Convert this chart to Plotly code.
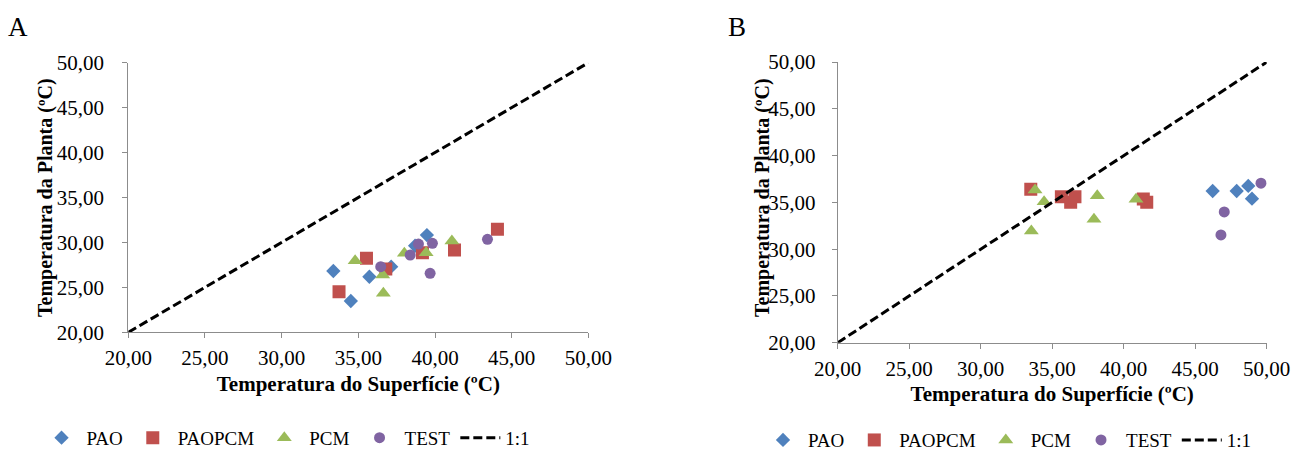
import plotly.graph_objects as go

# Panel A: surface vs. plant temperature
a_pao_x = [33.37, 34.51, 35.72, 37.14, 39.47, 38.70]
a_pao_y = [26.82, 23.48, 26.18, 27.30, 30.82, 29.63]
a_paopcm_x = [33.74, 35.53, 36.79, 39.18, 41.27, 44.07]
a_paopcm_y = [24.52, 28.23, 27.04, 28.85, 29.15, 31.46]
a_pcm_x = [34.79, 36.59, 36.63, 38.00, 39.42, 41.10]
a_pcm_y = [27.96, 26.37, 24.34, 28.79, 28.85, 30.16]
a_test_x = [36.46, 38.38, 38.92, 39.83, 39.68, 43.42]
a_test_y = [27.30, 28.60, 29.82, 29.90, 26.56, 30.34]

# Panel B
b_pao_x = [46.22, 47.90, 48.71, 48.97]
b_pao_y = [36.22, 36.22, 36.76, 35.40]
b_paopcm_x = [33.50, 35.64, 36.29, 36.59, 41.37, 41.61]
b_paopcm_y = [36.41, 35.61, 35.02, 35.61, 35.37, 35.02]
b_pcm_x = [33.80, 34.43, 38.15, 37.92, 40.86, 33.54]
b_pcm_y = [36.33, 35.08, 35.72, 33.20, 35.34, 31.95]
b_test_x = [49.60, 47.03, 46.80]
b_test_y = [37.05, 33.98, 31.52]

ref_line = [20, 50]
tick_vals = [20, 25, 30, 35, 40, 45, 50]

X_TITLE = "Temperatura do Superfície (ºC)"
Y_TITLE = "Temperatura da Planta (ºC)"

FONT = "Liberation Serif, Times New Roman, serif"
COLORS = {"PAO": "#4F81BD", "PAOPCM": "#C0504D", "PCM": "#9BBB59", "TEST": "#8064A2"}
SYMBOLS = {"PAO": ("diamond", 11), "PAOPCM": ("square", 13), "PCM": ("triangle-up", 13), "TEST": ("circle", 11)}

W, H = 1296, 450

fig = go.Figure()

panels = [
    ("x", "y", "legend", [("PAO", a_pao_x, a_pao_y), ("PAOPCM", a_paopcm_x, a_paopcm_y),
                          ("PCM", a_pcm_x, a_pcm_y), ("TEST", a_test_x, a_test_y)]),
    ("x2", "y2", "legend2", [("PAO", b_pao_x, b_pao_y), ("PAOPCM", b_paopcm_x, b_paopcm_y),
                             ("PCM", b_pcm_x, b_pcm_y), ("TEST", b_test_x, b_test_y)]),
]

for xa, ya, leg, series in panels:
    for name, xs, ys in series:
        sym, size = SYMBOLS[name]
        fig.add_trace(go.Scatter(
            x=xs, y=ys, mode="markers", name=name, xaxis=xa, yaxis=ya, legend=leg,
            marker=dict(symbol=sym, size=size, color=COLORS[name], line=dict(width=0)),
        ))
    fig.add_trace(go.Scatter(
        x=ref_line, y=ref_line, mode="lines", name="1:1", xaxis=xa, yaxis=ya, legend=leg,
        line=dict(color="black", width=3, dash="9px,4px"),
    ))

axis_common = dict(
    range=[20, 50], tickvals=tick_vals, tickformat=".2f",
    showgrid=False, zeroline=False, showline=True, linecolor="#8c8c8c", linewidth=1,
    ticks="outside", ticklen=5, tickcolor="#8c8c8c",
    tickfont=dict(family=FONT, size=21, color="black"),
    automargin=False,
)
xtitle_font = dict(family=FONT, size=21, color="black", weight="bold")
ytitle_font = dict(family=FONT, size=20, color="black", weight="bold")
legend_font = dict(family=FONT, size=19, color="black")


def px_x(v):
    return v / W


def px_y(v):
    return 1 - v / H


fig.update_layout(
    width=W, height=H,
    margin=dict(l=0, r=0, t=0, b=0, autoexpand=False),
    paper_bgcolor="white", plot_bgcolor="white",
    separators=", ",
    font=dict(family=FONT, color="black"),
    xaxis=dict(domain=[0.099, 0.454], anchor="y", ticklabelstandoff=2,
               title=dict(text=X_TITLE, font=xtitle_font, standoff=6),
               **axis_common),
    yaxis=dict(domain=[0.2616, 0.8607], anchor="x", ticklabelstandoff=14,
               **axis_common),
    xaxis2=dict(domain=[0.6464, 0.9774], anchor="y2", ticklabelstandoff=2,
                title=dict(text=X_TITLE, font=xtitle_font, standoff=6),
                **axis_common),
    yaxis2=dict(domain=[0.2384, 0.862], anchor="x2", ticklabelstandoff=12,
                **axis_common),
    legend=dict(orientation="h", x=0.2207, xanchor="center", y=0.027, yanchor="middle",
                itemwidth=40, font=legend_font, bgcolor="rgba(0,0,0,0)"),
    legend2=dict(orientation="h", x=0.7774, xanchor="center", y=0.022, yanchor="middle",
                 itemwidth=40, font=legend_font, bgcolor="rgba(0,0,0,0)"),
    annotations=[
        dict(text="A", x=px_x(18), y=px_y(27), xref="paper", yref="paper",
             xanchor="center", yanchor="middle", showarrow=False,
             font=dict(family=FONT, size=27, color="black")),
        dict(text="B", x=px_x(737), y=px_y(27), xref="paper", yref="paper",
             xanchor="center", yanchor="middle", showarrow=False,
             font=dict(family=FONT, size=27, color="black")),
        dict(text=Y_TITLE, x=px_x(45.5), y=px_y(197.5), xref="paper", yref="paper",
             xanchor="center", yanchor="middle", textangle=-90, showarrow=False,
             font=ytitle_font),
        dict(text=Y_TITLE, x=px_x(763), y=px_y(198), xref="paper", yref="paper",
             xanchor="center", yanchor="middle", textangle=-90, showarrow=False,
             font=ytitle_font),
    ],
)

fig.write_html("out.html")
